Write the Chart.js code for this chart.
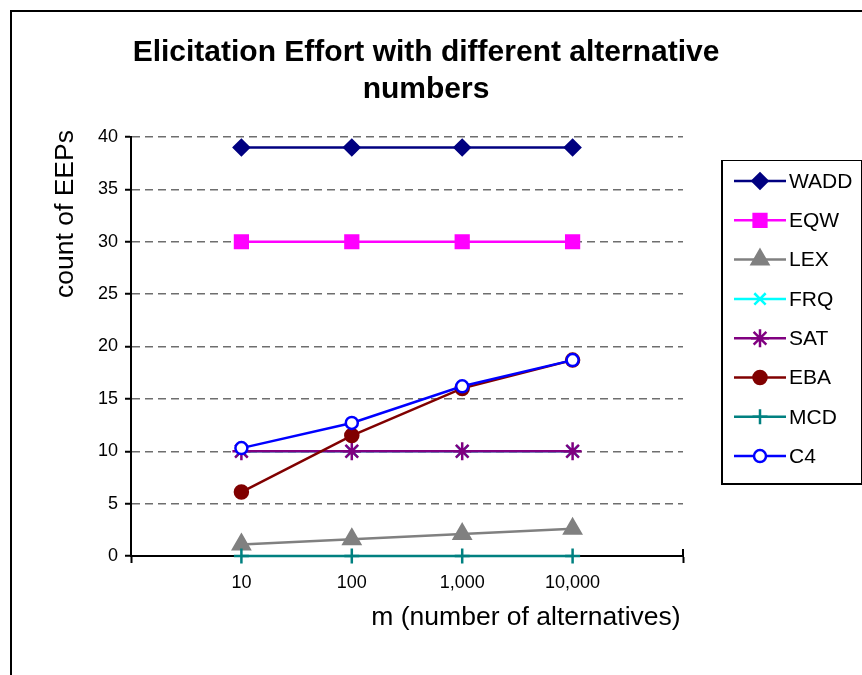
<!DOCTYPE html>
<html>
<head>
<meta charset="utf-8">
<script src="https://cdn.jsdelivr.net/npm/chart.js@4/dist/chart.umd.min.js"></script>
<style>
  html, body { margin: 0; padding: 0; background: #fff; }
  #wrap { width: 862px; height: 675px; position: relative; }
</style>
</head>
<body>
<div id="wrap"><canvas id="c" width="862" height="675"></canvas></div>
<script>
// Number of alternatives (m) shown along the horizontal axis
const categories = ['10', '100', '1,000', '10,000'];

// Count of elementary elicitation processes (EEPs) per strategy
const wadd = [39, 39, 39, 39];
const eqw  = [30, 30, 30, 30];
const lex  = [1.1, 1.6, 2.1, 2.6];
const frq  = [10, 10, 10, 10];
const sat  = [10, 10, 10, 10];
const eba  = [6.1, 11.5, 16.0, 18.7];
const mcd  = [0, 0, 0, 0];
const c4   = [10.3, 12.7, 16.2, 18.7];

const seriesNames = ['WADD', 'EQW', 'LEX', 'FRQ', 'SAT', 'EBA', 'MCD', 'C4'];
const seriesValues = [wadd, eqw, lex, frq, sat, eba, mcd, c4];

const titleLines = ['Elicitation Effort with different alternative', 'numbers'];
const yTitle = 'count of EEPs';
const xTitle = 'm (number of alternatives)';

const FONT = '"Liberation Sans", Arial, sans-serif';

const styles = [
  { color: '#000080', fill: '#000080', pointStyle: 'rectRot',  radius: 7.5 },
  { color: '#FF00FF', fill: '#FF00FF', pointStyle: 'rect',     radius: 9 },
  { color: '#808080', fill: '#808080', pointStyle: 'triangle', radius: 9.5 },
  { color: '#00FFFF', fill: '#00FFFF', pointStyle: 'crossRot', radius: 8 },
  { color: '#800080', fill: '#800080', pointStyle: 'star',     radius: 9 },
  { color: '#800000', fill: '#800000', pointStyle: 'circle',   radius: 6.5 },
  { color: '#008080', fill: '#008080', pointStyle: 'cross',    radius: 7.5 },
  { color: '#0000FF', fill: '#FFFFFF', pointStyle: 'circle',   radius: 6 }
];

const datasets = seriesNames.map((name, i) => ({
  label: name,
  data: seriesValues[i].map((v, j) => ({ x: j + 1, y: v })),
  borderColor: styles[i].color,
  backgroundColor: styles[i].fill,
  borderWidth: 2.5,
  pointStyle: styles[i].pointStyle,
  pointRadius: styles[i].radius,
  pointBorderWidth: 2.5,
  pointBorderColor: styles[i].color,
  pointBackgroundColor: styles[i].fill,
  tension: 0,
  clip: false,
  order: -i
}));

// Frame, titles and the boxed legend
const decorations = {
  id: 'decorations',
  afterDraw(chart) {
    const ctx = chart.ctx;
    const area = chart.chartArea;
    ctx.save();

    // outer frame (top and left edges)
    ctx.strokeStyle = '#000';
    ctx.lineWidth = 2;
    ctx.beginPath();
    ctx.moveTo(11, 675);
    ctx.lineTo(11, 11);
    ctx.lineTo(862, 11);
    ctx.stroke();

    // end tick of the category axis crosses the axis line
    ctx.beginPath();
    ctx.moveTo(area.right, area.bottom - 7);
    ctx.lineTo(area.right, area.bottom);
    ctx.stroke();

    // chart title
    ctx.fillStyle = '#000';
    ctx.textAlign = 'center';
    ctx.textBaseline = 'middle';
    ctx.font = 'bold 30px ' + FONT;
    ctx.fillText(titleLines[0], 426, 53);
    ctx.fillText(titleLines[1], 426, 90);

    // axis titles
    ctx.font = '26.5px ' + FONT;
    ctx.fillText(xTitle, 526, 618);
    ctx.save();
    ctx.translate(66, 214);
    ctx.rotate(-Math.PI / 2);
    ctx.fillText(yTitle, 0, 0);
    ctx.restore();

    // legend box
    const lx = 721, ly = 160, lw = 140, lh = 323;
    ctx.fillStyle = '#fff';
    ctx.fillRect(lx, ly, lw, lh);
    ctx.strokeStyle = '#000';
    ctx.lineWidth = 1;
    ctx.strokeRect(lx + 0.5, ly + 0.5, lw, lh);
    ctx.lineWidth = 2;
    ctx.beginPath();
    ctx.moveTo(lx + 1, ly);
    ctx.lineTo(lx + 1, ly + lh + 1);
    ctx.lineTo(lx + lw + 1, ly + lh + 1);
    ctx.stroke();

    ctx.textAlign = 'left';
    ctx.font = '21px ' + FONT;
    chart.data.datasets.forEach((ds, i) => {
      const y = 181 + i * 39.3;
      ctx.strokeStyle = ds.borderColor;
      ctx.lineWidth = 2.5;
      ctx.beginPath();
      ctx.moveTo(734, y);
      ctx.lineTo(786, y);
      ctx.stroke();
      ctx.fillStyle = ds.pointBackgroundColor;
      ctx.strokeStyle = ds.pointBorderColor;
      Chart.helpers.drawPoint(ctx, {
        pointStyle: ds.pointStyle,
        radius: ds.pointRadius,
        borderWidth: ds.pointBorderWidth,
        rotation: 0
      }, 760, y);
      ctx.fillStyle = '#000';
      ctx.fillText(ds.label, 789, y + 1);
    });

    ctx.restore();
  }
};

new Chart(document.getElementById('c'), {
  type: 'line',
  data: { datasets },
  options: {
    responsive: false,
    animation: false,
    devicePixelRatio: 1,
    events: [],
    layout: { padding: { top: 137, right: 179, bottom: 74, left: 0 } },
    plugins: { legend: { display: false }, title: { display: false }, tooltip: { enabled: false } },
    scales: {
      x: {
        type: 'linear',
        min: 0,
        max: 5,
        afterFit(scale) { scale.height = 45; },
        ticks: {
          stepSize: 1,
          autoSkip: false,
          maxRotation: 0,
          padding: 9,
          color: '#000',
          font: { family: FONT, size: 18 },
          callback: (v) => (v >= 1 && v <= categories.length) ? categories[v - 1] : ''
        },
        grid: {
          drawOnChartArea: false,
          drawTicks: true,
          tickLength: 7,
          tickWidth: 2,
          tickColor: (c) => (c.tick && (c.tick.value === 0 || c.tick.value === 5)) ? '#000' : 'rgba(0,0,0,0)'
        },
        border: { color: '#000', width: 2 }
      },
      y: {
        min: 0,
        max: 40,
        afterFit(scale) { scale.width = 131; },
        ticks: {
          stepSize: 5,
          padding: 7,
          color: '#000',
          font: { family: FONT, size: 18 }
        },
        grid: {
          color: (c) => (c.tick && c.tick.value === 0) ? 'rgba(0,0,0,0)' : '#6e6e6e',
          lineWidth: 1.5,
          tickLength: 6,
          tickWidth: 2,
          tickColor: '#000'
        },
        border: { color: '#000', width: 2, dash: [8, 5] }
      }
    }
  },
  plugins: [decorations]
});
</script>
</body>
</html>
